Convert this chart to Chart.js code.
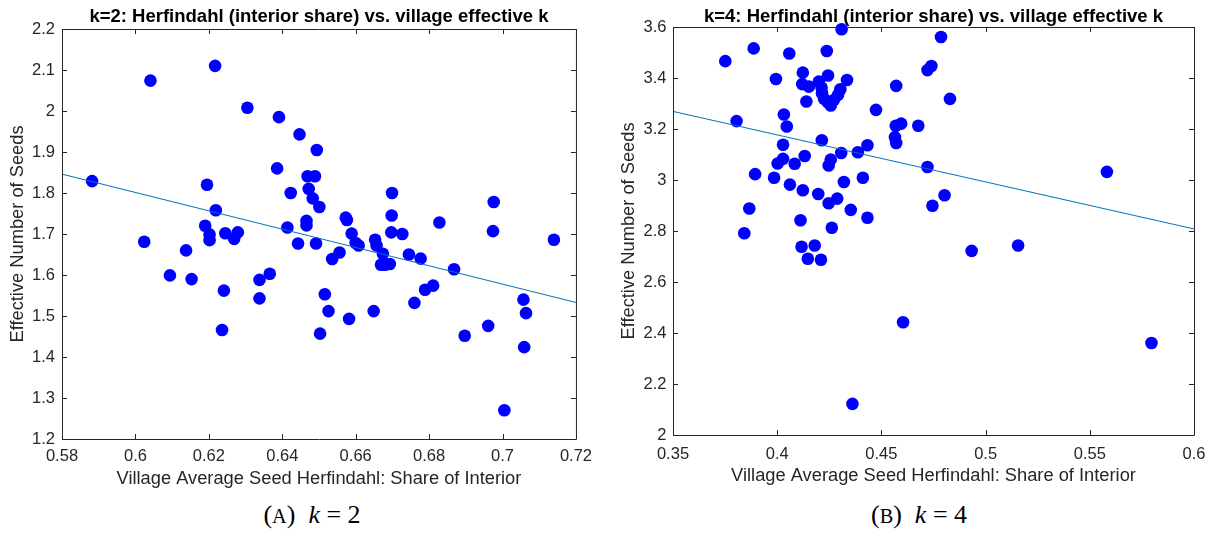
<!DOCTYPE html>
<html>
<head>
<meta charset="utf-8">
<script src="https://cdn.jsdelivr.net/npm/chart.js@4.4.0/dist/chart.umd.min.js"></script>
<style>
  body { margin: 0; background: #fff; width: 1217px; height: 533px; overflow: hidden; position: relative; }
  .panel { position: absolute; top: 0; }
  .cap { position: absolute; top: 500px; line-height: 30px; font-family: "Liberation Serif", serif; font-size: 26px; color: #000; white-space: nowrap; transform: translateX(-50%); }
  .sc { font-size: 0.78em; }
</style>
</head>
<body>
<div class="panel" style="left:0px"><canvas id="chartA" width="600" height="500"></canvas></div>
<div class="panel" style="left:605px"><canvas id="chartB" width="612" height="500"></canvas></div>
<div class="cap" style="left:312px">(<span class="sc">A</span>)&nbsp; <i>k</i>&nbsp;=&nbsp;2</div>
<div class="cap" style="left:919px">(<span class="sc">B</span>)&nbsp; <i>k</i>&nbsp;=&nbsp;4</div>
<script>
// k=2 panel: village average seed Herfindahl vs effective number of seeds
const herfA = [0.5882, 0.6024, 0.6041, 0.6094, 0.6138, 0.6153, 0.6190, 0.6195, 0.6202, 0.6202,
  0.6217, 0.6219, 0.6236, 0.6241, 0.6245, 0.6269, 0.6279, 0.6305, 0.6338, 0.6338,
  0.6366, 0.6386, 0.6391, 0.6414, 0.6423, 0.6443, 0.6447, 0.6466, 0.6466, 0.6469,
  0.6472, 0.6483, 0.6489, 0.6492, 0.6494, 0.6501, 0.6503, 0.6516, 0.6526, 0.6536,
  0.6556, 0.6573, 0.6576, 0.6582, 0.6589, 0.6600, 0.6608, 0.6649, 0.6653, 0.6657,
  0.6669, 0.6674, 0.6680, 0.6693, 0.6697, 0.6698, 0.6699, 0.6727, 0.6745, 0.6760,
  0.6777, 0.6789, 0.6811, 0.6828, 0.6868, 0.6897, 0.6961, 0.6974, 0.6976, 0.7005,
  0.7057, 0.7064, 0.7059, 0.7140];
const seedsA = [1.829, 1.681, 2.074, 1.599, 1.660, 1.590, 1.720, 1.820, 1.699, 1.685,
  2.110, 1.758, 1.466, 1.562, 1.702, 1.688, 1.704, 2.008, 1.588, 1.543,
  1.603, 1.860, 1.985, 1.716, 1.800, 1.677, 1.943, 1.732, 1.721, 1.841,
  1.810, 1.787, 1.841, 1.677, 1.905, 1.766, 1.457, 1.553, 1.512, 1.639,
  1.655, 1.740, 1.734, 1.493, 1.701, 1.678, 1.672, 1.512, 1.686, 1.672,
  1.625, 1.652, 1.625, 1.627, 1.704, 1.745, 1.800, 1.700, 1.650, 1.532,
  1.640, 1.564, 1.574, 1.728, 1.614, 1.452, 1.476, 1.707, 1.778, 1.270,
  1.540, 1.507, 1.424, 1.686];
const fitXA = [0.58, 0.72];
const fitYA = [1.846, 1.533];
const xTicksA = [0.58, 0.6, 0.62, 0.64, 0.66, 0.68, 0.7, 0.72];
const xLabelsA = ['0.58', '0.6', '0.62', '0.64', '0.66', '0.68', '0.7', '0.72'];
const yTicksA = [1.2, 1.3, 1.4, 1.5, 1.6, 1.7, 1.8, 1.9, 2, 2.1, 2.2];
const yLabelsA = ['1.2', '1.3', '1.4', '1.5', '1.6', '1.7', '1.8', '1.9', '2', '2.1', '2.2'];

// k=4 panel
const herfB = [0.3751, 0.3805, 0.3842, 0.3866, 0.3887, 0.3894, 0.3985, 0.3994, 0.4002, 0.4028,
  0.4028, 0.4032, 0.4046, 0.4058, 0.4061, 0.4084, 0.4112, 0.4117, 0.4120, 0.4123,
  0.4123, 0.4132, 0.4140, 0.4147, 0.4152, 0.4180, 0.4197, 0.4200, 0.4210, 0.4213,
  0.4214, 0.4215, 0.4225, 0.4238, 0.4243, 0.4244, 0.4247, 0.4247, 0.4257, 0.4257,
  0.4262, 0.4272, 0.4288, 0.4292, 0.4303, 0.4307, 0.4309, 0.4320, 0.4335, 0.4353,
  0.4361, 0.4387, 0.4411, 0.4433, 0.4433, 0.4474, 0.4565, 0.4569, 0.4571, 0.4571,
  0.4595, 0.4604, 0.4677, 0.4721, 0.4721, 0.4740, 0.4745, 0.4786, 0.4803, 0.4829,
  0.4933, 0.5156, 0.5582, 0.5796];
const seedsB = [3.466, 3.231, 2.791, 2.888, 3.516, 3.023, 3.009, 3.396, 3.065, 3.083,
  3.138, 3.257, 3.210, 3.496, 2.982, 3.064, 2.842, 2.738, 3.376, 3.421,
  2.960, 3.094, 3.308, 2.691, 3.366, 2.743, 2.945, 3.386, 2.687, 3.362,
  3.156, 3.340, 3.318, 3.506, 3.305, 3.410, 3.057, 2.909, 3.292, 3.080,
  2.813, 3.314, 2.927, 3.334, 3.356, 3.106, 3.591, 2.992, 3.392, 2.883,
  2.122, 3.109, 3.009, 3.136, 2.852, 3.275, 3.168, 3.213, 3.369, 3.145,
  3.221, 2.442, 3.213, 3.431, 3.051, 3.447, 2.899, 3.561, 2.940, 3.318,
  2.722, 2.743, 3.032, 2.361];
const fitXB = [0.35, 0.6];
const fitYB = [3.269, 2.808];
const xTicksB = [0.35, 0.4, 0.45, 0.5, 0.55, 0.6];
const xLabelsB = ['0.35', '0.4', '0.45', '0.5', '0.55', '0.6'];
const yTicksB = [2, 2.2, 2.4, 2.6, 2.8, 3, 3.2, 3.4, 3.6];
const yLabelsB = ['2', '2.2', '2.4', '2.6', '2.8', '3', '3.2', '3.4', '3.6'];

const FONT = "'Liberation Sans', Arial, sans-serif";
const AXIS_COLOR = '#262626';

// box around the plot with inward ticks on all four sides
const boxTicks = {
  id: 'boxTicks',
  afterDraw(chart) {
    const { ctx, chartArea: a, scales: { x, y } } = chart;
    const len = 5;
    ctx.save();
    ctx.strokeStyle = AXIS_COLOR;
    ctx.lineWidth = 1;
    ctx.beginPath();
    ctx.rect(a.left + 0.5, a.top + 0.5, a.right - a.left, a.bottom - a.top);
    x.ticks.forEach(t => {
      const px = Math.round(x.getPixelForValue(t.value)) + 0.5;
      ctx.moveTo(px, a.bottom); ctx.lineTo(px, a.bottom - len);
      ctx.moveTo(px, a.top); ctx.lineTo(px, a.top + len);
    });
    y.ticks.forEach(t => {
      const py = Math.round(y.getPixelForValue(t.value)) + 0.5;
      ctx.moveTo(a.left, py); ctx.lineTo(a.left + len, py);
      ctx.moveTo(a.right, py); ctx.lineTo(a.right - len, py);
    });
    ctx.stroke();
    ctx.restore();
  }
};

function makeChart(id, xs, ys, fitX, fitY, xTicks, xLabels, yTicks, yLabels, title, g) {
  return new Chart(document.getElementById(id), {
    type: 'scatter',
    data: {
      datasets: [
        {
          type: 'line',
          data: fitX.map((v, i) => ({ x: v, y: fitY[i] })),
          borderColor: '#0072BD',
          borderWidth: 1,
          pointRadius: 0,
          fill: false,
          order: 0
        },
        {
          data: xs.map((v, i) => ({ x: v, y: ys[i] })),
          pointRadius: 6.3,
          pointBackgroundColor: '#0000FF',
          pointBorderWidth: 0,
          clip: false,
          order: 1
        }
      ]
    },
    options: {
      responsive: false,
      animation: false,
      events: [],
      layout: { padding: { left: 0, right: g.padRight, top: 0, bottom: 0 } },
      plugins: {
        legend: { display: false },
        tooltip: { enabled: false },
        title: {
          display: true,
          fullSize: false,
          text: title,
          color: '#000',
          font: { family: FONT, size: 18.5, weight: 'bold', lineHeight: 1 },
          padding: { top: g.titleTop, bottom: g.titleBottom }
        }
      },
      scales: {
        x: {
          type: 'linear',
          min: xTicks[0],
          max: xTicks[xTicks.length - 1],
          grid: { display: false, drawTicks: false },
          border: { display: false },
          afterBuildTicks: s => { s.ticks = xTicks.map(v => ({ value: v })); },
          afterFit: s => { s.height = g.xh; },
          ticks: {
            padding: g.xTickPad,
            maxRotation: 0,
            autoSkip: false,
            color: AXIS_COLOR,
            font: { family: FONT, size: 16.5 },
            callback: (v, i) => xLabels[i]
          },
          title: {
            display: true,
            text: 'Village Average Seed Herfindahl: Share of Interior',
            color: AXIS_COLOR,
            font: { family: FONT, size: 18.3 },
            padding: { top: 0, bottom: g.xTitlePad }
          }
        },
        y: {
          type: 'linear',
          min: yTicks[0],
          max: yTicks[yTicks.length - 1],
          grid: { display: false, drawTicks: false },
          border: { display: false },
          afterBuildTicks: s => { s.ticks = yTicks.map(v => ({ value: v })); },
          afterFit: s => { s.width = g.yw; },
          ticks: {
            padding: g.yTickPad,
            autoSkip: false,
            color: AXIS_COLOR,
            font: { family: FONT, size: 16.5 },
            callback: (v, i) => yLabels[i]
          },
          title: {
            display: true,
            text: 'Effective Number of Seeds',
            color: AXIS_COLOR,
            font: { family: FONT, size: 18.3 },
            padding: { top: g.yTitlePad, bottom: 0 }
          }
        }
      }
    },
    plugins: [boxTicks]
  });
}

makeChart('chartA', herfA, seedsA, fitXA, fitYA, xTicksA, xLabelsA, yTicksA, yLabelsA,
  'k=2: Herfindahl (interior share) vs. village effective k',
  { padRight: 18, yw: 62, xh: 61, titleTop: 7.25, titleBottom: 3.25, xTickPad: 8, xTitlePad: 10, yTickPad: 7, yTitlePad: 6.5 });

makeChart('chartB', herfB, seedsB, fitXB, fitYB, xTicksB, xLabelsB, yTicksB, yLabelsB,
  'k=4: Herfindahl (interior share) vs. village effective k',
  { padRight: 23, yw: 68, xh: 65, titleTop: 7.25, titleBottom: 1.25, xTickPad: 10, xTitlePad: 13.3, yTickPad: 6.5, yTitlePad: 13 });
</script>
</body>
</html>
